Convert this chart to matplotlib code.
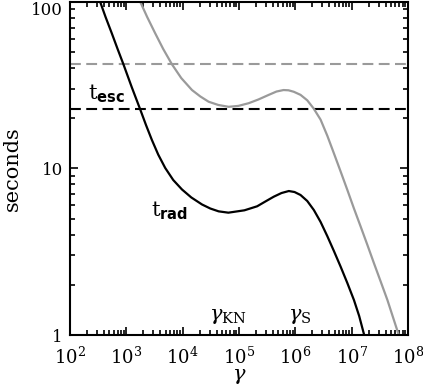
import numpy as np
import matplotlib
matplotlib.use('Agg')
import matplotlib.pyplot as plt
from matplotlib.ticker import FixedLocator, FuncFormatter, NullFormatter

plt.rcParams['font.family'] = 'DejaVu Serif'
plt.rcParams['mathtext.fontset'] = 'custom'
plt.rcParams['mathtext.rm'] = 'DejaVu Serif'
plt.rcParams['mathtext.it'] = 'DejaVu Serif:italic'
plt.rcParams['mathtext.bf'] = 'DejaVu Sans:bold'

# t_rad curve (black)
gam_rad = [342, 428, 552, 700, 888, 1243, 1761, 2233, 2842, 3679, 4902, 6803, 9716,
           1.422e4, 2.205e4, 3.099e4, 4.353e4, 6.478e4, 1.248e5, 2.100e5, 2.950e5,
           4.144e5, 5.680e5, 7.66e5, 9.68e5, 1.237e6, 1.628e6, 2.134e6, 2.808e6,
           3.695e6, 4.843e6, 6.373e6, 8.385e6, 1.099e7, 1.360e7, 1.669e7]
t_rad = [100, 80.9, 64.6, 52.0, 42.1, 30.8, 22.6, 18.2, 14.8, 12.1, 10.05, 8.51, 7.47,
         6.69, 6.07, 5.74, 5.52, 5.42, 5.60, 5.92, 6.33,
         6.76, 7.11, 7.31, 7.21, 6.92, 6.37, 5.62, 4.77,
         3.92, 3.19, 2.57, 2.05, 1.62, 1.30, 1.0]

# second curve (gray)
gam_2 = [1761, 2345, 3254, 4517, 6451, 9443, 1.464e4, 2.057e4, 2.890e4, 4.300e4,
         6.557e4, 9.757e4, 1.488e5, 2.215e5, 3.377e5, 4.630e5, 6.166e5, 7.568e5,
         9.404e5, 1.237e6, 1.628e6, 2.108e6, 2.808e6, 3.695e6, 4.843e6, 6.373e6,
         8.385e6, 1.099e7, 1.446e7, 1.903e7, 2.494e7, 3.281e7, 4.317e7, 6.86e7]
t_2 = [100, 80.9, 64.6, 52.0, 42.1, 34.8, 29.5, 27.0, 25.1, 24.0,
       23.4, 23.7, 24.6, 25.9, 27.6, 28.9, 29.5, 29.4,
       28.8, 27.6, 25.6, 22.9, 19.6, 15.7, 12.3, 9.57,
       7.42, 5.74, 4.47, 3.47, 2.69, 2.09, 1.62, 1.0]

t_esc = 22.6
t_esc2 = 42.1

x_major = [1e2, 1e3, 1e4, 1e5, 1e6, 1e7, 1e8]
y_major = [1, 10, 100]

gray = '#9a9a9a'

fig = plt.figure(figsize=(4.23, 3.92), dpi=100)
ax = fig.add_axes([0.1655, 0.1454, 0.799, 0.8503])

ax.axhline(t_esc2, color=gray, lw=1.5, ls=(0, (5.2, 2.6)))
ax.axhline(t_esc, color='k', lw=1.5, ls=(0, (5.2, 2.6)))
ax.plot(gam_2, t_2, color=gray, lw=1.6)
ax.plot(gam_rad, t_rad, color='k', lw=1.6)

ax.set_xscale('log')
ax.set_yscale('log')
ax.set_xlim(1e2, 1e8)
ax.set_ylim(1, 100)

ax.xaxis.set_major_locator(FixedLocator(x_major))
ax.xaxis.set_minor_locator(FixedLocator([m * d for d in x_major[:-1] for m in range(2, 10)]))
ax.yaxis.set_major_locator(FixedLocator(y_major))
ax.yaxis.set_minor_locator(FixedLocator([m * d for d in y_major[:-1] for m in range(2, 10)]))
ax.xaxis.set_minor_formatter(NullFormatter())
ax.yaxis.set_minor_formatter(NullFormatter())
ax.xaxis.set_major_formatter(FuncFormatter(lambda v, p: r'$\mathrm{10^{%d}}$' % round(np.log10(v))))
ax.yaxis.set_major_formatter(FuncFormatter(lambda v, p: '%d' % round(v)))

ax.tick_params(which='both', direction='in', top=True, right=True, width=1.2)
ax.tick_params(which='major', length=6)
ax.tick_params(which='minor', length=3.5)
ax.tick_params(axis='x', pad=8, labelsize=13)
ax.tick_params(axis='y', pad=5, labelsize=12)
for s in ax.spines.values():
    s.set_linewidth(1.5)

ax.set_ylabel('seconds', fontsize=15, labelpad=7)
ax.set_xlabel(r'$\gamma$', fontsize=15, labelpad=0)

ax.text(0.054, 0.705, r'$\mathrm{t}_{\mathbf{esc}}$', transform=ax.transAxes, fontsize=15)
ax.text(0.24, 0.355, r'$\mathrm{t}_{\mathbf{rad}}$', transform=ax.transAxes, fontsize=15)
ax.text(0.41, 0.045, r'$\gamma_{\mathrm{KN}}$', transform=ax.transAxes, fontsize=15)
ax.text(0.645, 0.045, r'$\gamma_{\mathrm{S}}$', transform=ax.transAxes, fontsize=15)

fig.canvas.draw()
for lbl in ax.get_yticklabels():
    if lbl.get_text() == '100':
        lbl.set_va('top')

fig.savefig('out.png', dpi=100)
